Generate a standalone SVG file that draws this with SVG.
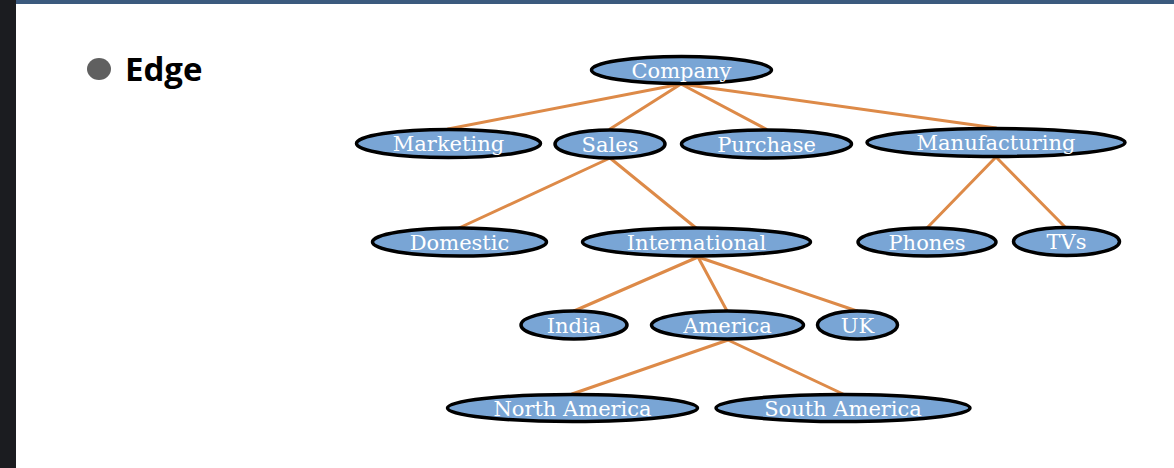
<svg xmlns="http://www.w3.org/2000/svg" width="1174" height="468" viewBox="0 0 1174 468">
<style>
.n ellipse{fill:#79a5d5;stroke:#000;stroke-width:3.5}
.n text{font-family:"DejaVu Serif","Liberation Serif",serif;font-size:21px;fill:#fff;text-anchor:middle}
#edges line{stroke:#dd8a48;stroke-width:3;stroke-linecap:round}
</style>
<rect x="0" y="0" width="1174" height="468" fill="#fff"/>
<rect x="0" y="0" width="16" height="468" fill="#1b1c20"/>
<rect x="16" y="0" width="1158" height="4" fill="#3b5a7e"/>
<g id="title">
<ellipse cx="99" cy="69" rx="12" ry="11" fill="#606060"/>
<text x="125" y="81" font-family="'Open Sans','Noto Sans','DejaVu Sans',sans-serif" font-weight="bold" font-size="33" fill="#000">Edge</text>
</g>
<g id="edges">
<line x1="681" y1="84" x2="448" y2="129"/>
<line x1="681" y1="84" x2="610" y2="129"/>
<line x1="681" y1="84" x2="766" y2="129"/>
<line x1="681" y1="84" x2="996" y2="128"/>
<line x1="610" y1="158" x2="459" y2="228"/>
<line x1="610" y1="158" x2="696" y2="228"/>
<line x1="996" y1="157" x2="927" y2="228"/>
<line x1="996" y1="157" x2="1066" y2="228"/>
<line x1="698" y1="257" x2="574" y2="311"/>
<line x1="698" y1="257" x2="727" y2="311"/>
<line x1="698" y1="257" x2="857" y2="311"/>
<line x1="728" y1="340" x2="572" y2="394"/>
<line x1="728" y1="340" x2="843" y2="394"/>
</g>
<g id="company" class="n"><ellipse cx="681.5" cy="70" rx="90" ry="13.5"/><text x="681.5" y="77.5">Company</text></g>
<g id="marketing" class="n"><ellipse cx="448.5" cy="143.5" rx="92" ry="14"/><text x="448.5" y="151">Marketing</text></g>
<g id="sales" class="n"><ellipse cx="610" cy="144" rx="55" ry="14"/><text x="610" y="151.5">Sales</text></g>
<g id="purchase" class="n"><ellipse cx="766.5" cy="144" rx="85" ry="14"/><text x="766.5" y="151.5">Purchase</text></g>
<g id="manufacturing" class="n"><ellipse cx="996" cy="142.5" rx="129" ry="14"/><text x="996" y="150">Manufacturing</text></g>
<g id="domestic" class="n"><ellipse cx="459.5" cy="242" rx="87" ry="14"/><text x="459.5" y="249.5">Domestic</text></g>
<g id="international" class="n"><ellipse cx="696.5" cy="242" rx="114" ry="14"/><text x="696.5" y="249.5">International</text></g>
<g id="phones" class="n"><ellipse cx="927" cy="242" rx="69" ry="14"/><text x="927" y="249.5">Phones</text></g>
<g id="tvs" class="n"><ellipse cx="1066.5" cy="241.5" rx="53" ry="14"/><text x="1066.5" y="249">TVs</text></g>
<g id="india" class="n"><ellipse cx="574" cy="325" rx="53" ry="14"/><text x="574" y="332.5">India</text></g>
<g id="america" class="n"><ellipse cx="727.5" cy="325" rx="76" ry="14"/><text x="727.5" y="332.5">America</text></g>
<g id="uk" class="n"><ellipse cx="857.5" cy="325" rx="40" ry="14"/><text x="857.5" y="332.5">UK</text></g>
<g id="north-america" class="n"><ellipse cx="572.5" cy="408" rx="125" ry="13.5"/><text x="572.5" y="415.5">North America</text></g>
<g id="south-america" class="n"><ellipse cx="843" cy="408" rx="127" ry="13.5"/><text x="843" y="415.5">South America</text></g>
</svg>
